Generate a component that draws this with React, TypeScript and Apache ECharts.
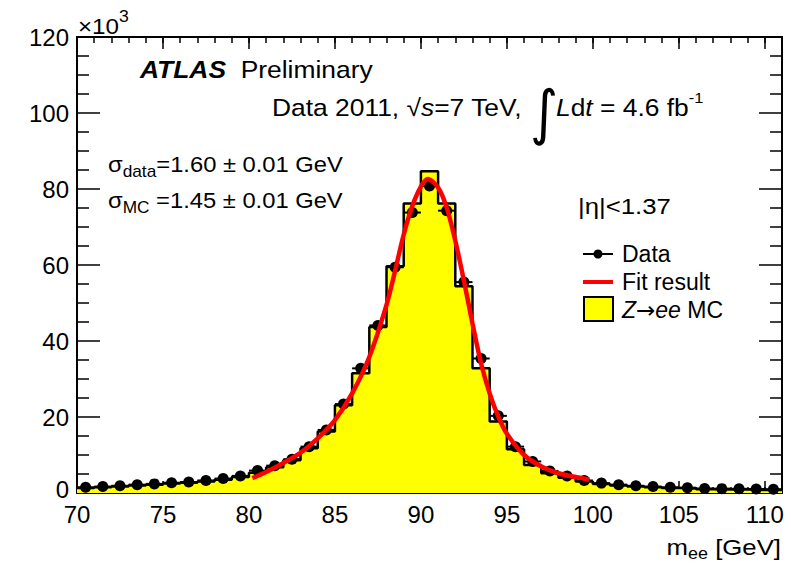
import React, { useEffect, useRef } from 'react';
import * as echarts from 'echarts';

// Bin centres of the 1 GeV histogram bins (GeV)
const binCenters = [
  70.5, 71.5, 72.5, 73.5, 74.5, 75.5, 76.5, 77.5, 78.5, 79.5,
  80.5, 81.5, 82.5, 83.5, 84.5, 85.5, 86.5, 87.5, 88.5, 89.5,
  90.5, 91.5, 92.5, 93.5, 94.5, 95.5, 96.5, 97.5, 98.5, 99.5,
  100.5, 101.5, 102.5, 103.5, 104.5, 105.5, 106.5, 107.5, 108.5, 109.5, 110.5,
];
// Data entries (x10^3)
const dataValues = [
  1.5, 1.7, 1.9, 2.2, 2.4, 2.7, 2.9, 3.3, 3.8, 4.5,
  5.9, 7.2, 8.9, 12.2, 16.6, 23.4, 32.8, 44.1, 59.4, 73.8,
  80.8, 74.3, 55.5, 35.4, 20.3, 12.2, 8.3, 5.8, 4.5, 3.3,
  2.6, 2.2, 1.9, 1.7, 1.5, 1.4, 1.2, 1.15, 1.1, 1.05, 1.0,
];
// Z->ee MC entries (x10^3)
const mcValues = [
  1.3, 1.5, 1.7, 2.0, 2.2, 2.5, 2.7, 3.0, 3.5, 4.2,
  5.3, 6.8, 8.6, 11.8, 16.2, 23.1, 31.5, 43.7, 59.7, 76.2,
  84.7, 76.2, 54.4, 32.8, 18.8, 11.5, 7.4, 5.2, 4.0, 3.0,
  2.4, 2.0, 1.7, 1.5, 1.3, 1.2, 1.0, 0.9, 0.9, 0.8, 0.8,
];
// Fit result curve
const fitMass = [
  80.2, 81, 82, 83, 84, 85, 86, 87, 88, 88.5, 89, 89.5, 90, 90.4,
  91, 91.5, 92, 92.5, 93, 93.5, 94, 94.5, 95, 96, 97, 98, 99, 99.8,
];
const fitValues = [
  3.9, 5.5, 7.9, 10.6, 14.4, 19.2, 26.2, 35.8, 49.5, 58.5, 68.0, 75.5, 80.6, 82.6,
  80.4, 75.1, 66.4, 55.9, 44.6, 34.1, 26.2, 20.1, 15.6, 10.0, 7.0, 5.2, 4.2, 3.5,
];
const xMajorTicks = [70, 75, 80, 85, 90, 95, 100, 105, 110];
const yTickLabels = [0, 20, 40, 60, 80, 100, 120];

const FONT = '"Liberation Sans", Arial, Helvetica, sans-serif';

export default function App() {
  const ref = useRef<HTMLDivElement>(null);
  useEffect(() => {
    if (!ref.current) return;
    const chart = echarts.init(ref.current, undefined, { renderer: 'svg' });
    const xMin = 70;
    const xMax = 111;
    const binHalf = 0.5;
    const mcSteps: number[][] = binCenters.map((c, i) => [c - binHalf, mcValues[i]]);
    mcSteps.push([binCenters[binCenters.length - 1] + binHalf, mcValues[mcValues.length - 1]]);
    const dataPts = binCenters.map((c, i) => [c, dataValues[i]]);
    const fitPts = fitMass.map((m, i) => [m, fitValues[i]]);

    const black = '#000';
    const baseX = {
      type: 'value' as const,
      min: xMin,
      max: xMax,
      splitLine: { show: false },
    };
    const option: any = {
      animation: false,
      grid: { left: 77, right: 9, top: 37, bottom: 71 },
      xAxis: [
        {
          ...baseX,
          position: 'bottom',
          interval: 1,
          axisLine: { show: true, onZero: false, lineStyle: { color: black, width: 2 } },
          axisTick: { show: true, inside: true, length: 6, lineStyle: { color: black, width: 1.5 } },
          axisLabel: { show: false },
        },
        {
          ...baseX,
          position: 'bottom',
          axisLine: { show: false, onZero: false },
          axisTick: { show: true, inside: true, length: 12, customValues: xMajorTicks, lineStyle: { color: black, width: 1.5 } },
          axisLabel: { show: true, customValues: xMajorTicks, fontSize: 24, lineHeight: 18, color: black, fontFamily: FONT, margin: 12 },
        },
        {
          ...baseX,
          position: 'top',
          interval: 1,
          axisLine: { show: true, onZero: false, lineStyle: { color: black, width: 2 } },
          axisTick: { show: true, inside: true, length: 6, lineStyle: { color: black, width: 1.5 } },
          axisLabel: { show: false },
        },
        {
          ...baseX,
          position: 'top',
          axisLine: { show: false, onZero: false },
          axisTick: { show: true, inside: true, length: 12, customValues: xMajorTicks, lineStyle: { color: black, width: 1.5 } },
          axisLabel: { show: false },
        },
      ],
      yAxis: [
        {
          type: 'value',
          position: 'left',
          min: 0,
          max: 120,
          interval: 20,
          splitLine: { show: false },
          axisLine: { show: true, onZero: false, lineStyle: { color: black, width: 2 } },
          axisTick: { show: true, inside: true, length: 23, customValues: yTickLabels, lineStyle: { color: black, width: 1.5 } },
          minorTick: { show: true, splitNumber: 4, length: 12, lineStyle: { color: black, width: 1.5 } },
          axisLabel: {
            show: true,
            color: black,
            fontFamily: FONT,
            margin: 8,
            formatter: (v: number) => (v === 0 ? '{z|0}' : '{n|' + v + '}'),
            rich: {
              z: { fontSize: 24, fontFamily: FONT, color: black, padding: [0, 0, 7, 0] },
              n: { fontSize: 24, fontFamily: FONT, color: black },
            },
          },
        },
        {
          type: 'value',
          position: 'right',
          min: 0,
          max: 120,
          interval: 20,
          splitLine: { show: false },
          axisLine: { show: true, onZero: false, lineStyle: { color: black, width: 2 } },
          axisTick: { show: true, inside: true, length: 23, lineStyle: { color: black, width: 1.5 } },
          minorTick: { show: true, splitNumber: 4, length: 12, lineStyle: { color: black, width: 1.5 } },
          axisLabel: { show: false },
        },
      ],
      series: [
        {
          name: 'Z→ee MC',
          type: 'line',
          step: 'end',
          data: mcSteps,
          symbol: 'none',
          lineStyle: { color: black, width: 2.5 },
          areaStyle: { color: '#ffff00', opacity: 1 },
          z: 1,
        },
        {
          name: 'Data errors',
          type: 'custom',
          data: dataPts,
          z: 3,
          renderItem: (params: any, api: any) => {
            const x = api.value(0);
            const y = api.value(1);
            const p1 = api.coord([x - binHalf, y]);
            const p2 = api.coord([x + binHalf, y]);
            return {
              type: 'line',
              shape: { x1: p1[0], y1: p1[1], x2: p2[0], y2: p2[1] },
              style: { stroke: black, lineWidth: 2 },
            };
          },
        },
        {
          name: 'Data',
          type: 'scatter',
          data: dataPts,
          symbol: 'circle',
          symbolSize: 11,
          itemStyle: { color: black, opacity: 1 },
          z: 4,
        },
        {
          name: 'Fit result',
          type: 'line',
          data: fitPts,
          smooth: 0.3,
          symbol: 'none',
          lineStyle: { color: '#ff0000', width: 4.5 },
          z: 5,
        },
      ],
      graphic: [
        {
          type: 'text', x: 78, y: 26, scaleX: 1.1,
          style: {
            text: '{a|×10}{s|3}', verticalAlign: 'middle', align: 'left', fill: black,
            rich: {
              a: { fontSize: 22, fontFamily: FONT, fill: black },
              s: { fontSize: 16, fontFamily: FONT, fill: black, padding: [0, 0, 18, 0] },
            },
          },
        },
        {
          type: 'text', x: 140, y: 69, scaleX: 1.1,
          style: {
            text: '{b|ATLAS}{a|  Preliminary}', verticalAlign: 'middle', align: 'left', fill: black,
            rich: {
              b: { fontSize: 24, fontFamily: FONT, fontWeight: 'bold', fontStyle: 'italic', fill: black },
              a: { fontSize: 24, fontFamily: FONT, fill: black },
            },
          },
        },
        {
          type: 'text', x: 272, y: 107, scaleX: 1.1,
          style: {
            text: '{a|Data 2011, √}{i|s}{a|=7 TeV,}',
            verticalAlign: 'middle', align: 'left', fill: black,
            rich: {
              a: { fontSize: 24, fontFamily: FONT, fill: black },
              i: { fontSize: 24, fontFamily: FONT, fontStyle: 'italic', fill: black },
            },
          },
        },
        {
          type: 'text', x: 530, y: 112, scaleX: 0.9,
          style: { text: '∫', fontSize: 60, fontFamily: '"DejaVu Sans", sans-serif', fill: black, verticalAlign: 'middle', align: 'left' },
        },
        {
          type: 'text', x: 556, y: 107, scaleX: 1.1,
          style: {
            text: '{i|L}{a|d}{i|t}{a| = 4.6 fb}{s|-1}',
            verticalAlign: 'middle', align: 'left', fill: black,
            rich: {
              a: { fontSize: 24, fontFamily: FONT, fill: black },
              i: { fontSize: 24, fontFamily: FONT, fontStyle: 'italic', fill: black },
              s: { fontSize: 15, fontFamily: FONT, fill: black, padding: [0, 0, 18, 0] },
            },
          },
        },
        {
          type: 'text', x: 108, y: 164, scaleX: 1.08,
          style: {
            text: '{a|σ}{s|data}{a|=1.60 ± 0.01 GeV}', verticalAlign: 'middle', align: 'left', fill: black,
            rich: {
              a: { fontSize: 22, fontFamily: FONT, fill: black },
              s: { fontSize: 16, fontFamily: FONT, fill: black, padding: [16, 0, 0, 0] },
            },
          },
        },
        {
          type: 'text', x: 108, y: 200, scaleX: 1.08,
          style: {
            text: '{a|σ}{s|MC}{a| =1.45 ± 0.01 GeV}', verticalAlign: 'middle', align: 'left', fill: black,
            rich: {
              a: { fontSize: 22, fontFamily: FONT, fill: black },
              s: { fontSize: 16, fontFamily: FONT, fill: black, padding: [16, 0, 0, 0] },
            },
          },
        },
        {
          type: 'text', x: 578, y: 206, scaleX: 1.12,
          style: { text: '|η|<1.37', fontSize: 23, fontFamily: FONT, fill: black, verticalAlign: 'middle', align: 'left' },
        },
        { type: 'line', shape: { x1: 583, y1: 254, x2: 613, y2: 254 }, style: { stroke: black, lineWidth: 2 } },
        { type: 'circle', shape: { cx: 598, cy: 254, r: 4.5 }, style: { fill: black } },
        { type: 'text', x: 622, y: 254, style: { text: 'Data', fontSize: 23, fontFamily: FONT, fill: black, verticalAlign: 'middle' } },
        { type: 'line', shape: { x1: 583, y1: 282, x2: 613, y2: 282 }, style: { stroke: '#ff0000', lineWidth: 4 } },
        { type: 'text', x: 622, y: 282, style: { text: 'Fit result', fontSize: 23, fontFamily: FONT, fill: black, verticalAlign: 'middle' } },
        { type: 'rect', shape: { x: 584, y: 297, width: 29, height: 24 }, style: { fill: '#ffff00', stroke: black, lineWidth: 2 } },
        {
          type: 'text', x: 622, y: 310,
          style: {
            text: '{i|Z}{r|→}{i|ee}{a| MC}', verticalAlign: 'middle', align: 'left', fill: black,
            rich: {
              a: { fontSize: 23, fontFamily: FONT, fill: black },
              r: { fontSize: 23, fontFamily: '"DejaVu Sans", sans-serif', fill: black },
              i: { fontSize: 23, fontFamily: FONT, fontStyle: 'italic', fill: black },
            },
          },
        },
        {
          type: 'text', x: 781, y: 547, scaleX: 1.12,
          style: {
            text: '{a|m}{s|ee}{a| [GeV]}', verticalAlign: 'middle', align: 'right', fill: black,
            rich: {
              a: { fontSize: 23, fontFamily: FONT, fill: black },
              s: { fontSize: 16, fontFamily: FONT, fill: black, padding: [14, 0, 0, 0] },
            },
          },
        },
      ],
    };
    chart.setOption(option);
    return () => chart.dispose();
  }, []);
  return (
    <div
      ref={ref}
      style={{ position: 'absolute', left: 0, top: 0, width: 791, height: 564, background: '#fff' }}
    />
  );
}
